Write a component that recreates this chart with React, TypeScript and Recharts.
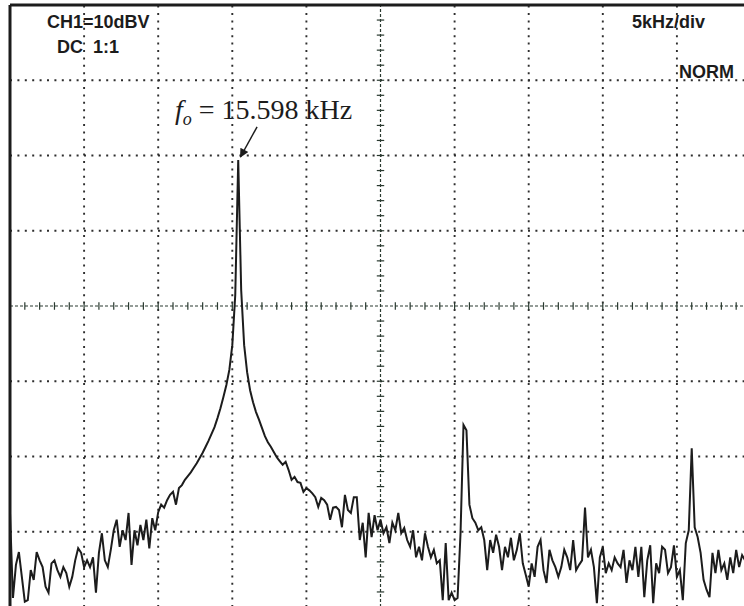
import React from "react";
import { LineChart, Line, XAxis, YAxis, ReferenceLine } from "recharts";

// spectrum trace, dB (top of screen = 0, 10 dB/div), sampled every 0.2 kHz from 0 kHz
const levels = [
  -67.5, -78.8, -74.4, -72.7, -76.0, -79.3, -79.1, -75.1, -76.4, -72.7,
  -73.8, -74.7, -77.3, -78.1, -74.2, -73.8, -75.1, -76.0, -74.7, -75.5,
  -77.3, -76.0, -73.8, -72.2, -72.8, -74.7, -73.8, -74.7, -73.4, -78.1,
  -72.8, -70.2, -73.8, -74.7, -72.4, -69.8, -68.4, -72.0, -69.8, -71.1,
  -67.5, -74.4, -69.8, -71.8, -69.1, -71.1, -68.4, -72.2, -68.2, -69.8,
  -67.4, -66.4, -66.8, -65.8, -65.1, -64.7, -66.4, -64.2, -63.8, -63.1,
  -62.6, -62.1, -61.5, -60.9, -60.2, -59.5, -58.7, -57.9, -57.0, -56.1,
  -54.9, -53.6, -52.1, -50.5, -48.5, -45.2, -38.5, -20.6, -37.9, -45.2,
  -48.8, -51.2, -52.8, -54.1, -55.1, -56.2, -57.3, -58.1, -58.7, -59.4,
  -60.1, -60.6, -61.1, -60.7, -61.8, -63.1, -62.7, -63.4, -63.5, -64.7,
  -64.2, -64.5, -64.9, -65.4, -66.7, -65.5, -65.8, -66.4, -68.4, -66.8,
  -66.7, -67.1, -69.4, -65.1, -67.1, -67.5, -65.4, -65.4, -71.1, -68.8,
  -73.4, -67.5, -70.7, -67.8, -69.8, -68.4, -70.2, -69.4, -71.5, -68.8,
  -69.8, -67.5, -70.2, -69.5, -71.1, -72.0, -69.8, -73.4, -72.0, -73.8,
  -70.2, -72.0, -73.4, -72.4, -74.2, -73.8, -79.1, -71.5, -79.1, -78.1,
  -79.1, -78.8, -70.2, -55.8, -56.5, -66.4, -68.2, -68.8, -69.8, -69.4,
  -71.1, -75.1, -71.1, -72.8, -70.4, -72.0, -75.1, -72.0, -73.4, -70.8,
  -73.8, -72.4, -70.2, -74.2, -75.7, -77.3, -74.2, -76.0, -72.0, -71.1,
  -75.1, -76.8, -72.4, -73.8, -74.7, -76.0, -74.7, -72.4, -73.4, -75.1,
  -71.1, -75.1, -74.4, -73.8, -66.8, -73.4, -72.4, -74.7, -79.5, -73.4,
  -72.0, -75.5, -74.2, -75.1, -73.4, -74.2, -74.7, -72.4, -76.8, -73.8,
  -75.1, -72.0, -76.0, -72.0, -78.7, -73.8, -71.8, -79.5, -74.2, -75.5,
  -72.0, -72.4, -75.5, -74.7, -71.8, -76.0, -75.1, -79.1, -71.5, -69.8,
  -58.9, -69.4, -70.7, -72.8, -76.4, -77.7, -78.7, -72.8, -75.5, -72.4,
  -75.1, -74.2, -76.4, -73.4, -75.5, -72.4, -74.7, -73.1, -73.8, -74.4,
  -73.8,
];
const FREQ_STEP = 0.2; // kHz per sample

const freqGrid = [5, 10, 15, 20, 30, 35, 40, 45];
const levelGrid = [-10, -20, -30, -50, -60, -70];
const freqTicks = [
  1, 2, 3, 4, 5, 6, 7, 8, 9, 10, 11, 12, 13, 14, 15, 16, 17, 18, 19, 20,
  21, 22, 23, 24, 26, 27, 28, 29, 30, 31, 32, 33, 34, 35, 36, 37, 38, 39,
  40, 41, 42, 43, 44, 45, 46, 47, 48, 49,
];
const levelTicks = [
  -2, -4, -6, -8, -10, -12, -14, -16, -18, -20, -22, -24, -26, -28, -30,
  -32, -34, -36, -38, -42, -44, -46, -48, -50, -52, -54, -56, -58, -60,
  -62, -64, -66, -68, -70, -72, -74, -76, -78,
];

const data = levels.map((level, i) => ({ freq: +(i * FREQ_STEP).toFixed(1), level }));

const ink = "#1c1c1c";
const dotted = { stroke: "#2e2e2e", strokeWidth: 1.9, strokeDasharray: "2 5.4" };
const axisLine = { stroke: "#2a3a30", strokeWidth: 1.2, strokeDasharray: "3 2" };
const scopeText: React.CSSProperties = {
  position: "absolute",
  fontFamily: "'Liberation Sans', Arial, sans-serif",
  fontWeight: 700,
  fontSize: 18,
  lineHeight: "18px",
  color: ink,
  whiteSpace: "nowrap",
};

export default function App() {
  return (
    <div
      style={{
        position: "absolute",
        left: 0,
        top: 0,
        width: 744,
        height: 606,
        overflow: "hidden",
        background: "#fff",
      }}
    >
      <svg width={0} height={0} style={{ position: "absolute" }}>
        <defs>
          <marker
            id="arrowHead"
            viewBox="0 0 10 10"
            refX="9"
            refY="5"
            markerWidth="7"
            markerHeight="6"
            orient="auto"
          >
            <path d="M0,0 L10,5 L0,10 z" fill={ink} />
          </marker>
        </defs>
      </svg>
      <LineChart
        width={760}
        height={612}
        data={data}
        margin={{ top: 5, right: 9, bottom: 5, left: 10 }}
      >
        <XAxis dataKey="freq" type="number" domain={[0, 50]} hide />
        <YAxis type="number" domain={[-80, 0]} hide allowDataOverflow />
        {freqGrid.map((f) => (
          <ReferenceLine key={"v" + f} x={f} {...dotted} />
        ))}
        {levelGrid.map((l) => (
          <ReferenceLine key={"h" + l} y={l} {...dotted} />
        ))}
        <ReferenceLine x={25} {...axisLine} />
        <ReferenceLine y={-40} {...axisLine} />
        {freqTicks.map((f) => (
          <ReferenceLine
            key={"ft" + f}
            segment={[
              { x: f, y: -40.5 },
              { x: f, y: -39.5 },
            ]}
            stroke="#2a3a30"
            strokeWidth={1.2}
          />
        ))}
        {levelTicks.map((l) => (
          <ReferenceLine
            key={"lt" + l}
            segment={[
              { x: 24.75, y: l },
              { x: 25.25, y: l },
            ]}
            stroke="#2a3a30"
            strokeWidth={1.2}
          />
        ))}
        <ReferenceLine x={0} stroke={ink} strokeWidth={3} />
        <ReferenceLine y={0} stroke={ink} strokeWidth={3} />
        <ReferenceLine
          segment={[
            { x: 16.67, y: -16.2 },
            { x: 15.55, y: -20.2 },
          ]}
          stroke={ink}
          strokeWidth={1.5}
          markerEnd="url(#arrowHead)"
        />
        <Line
          type="linear"
          dataKey="level"
          stroke={ink}
          strokeWidth={2}
          dot={false}
          isAnimationActive={false}
        />
      </LineChart>

      <div style={{ ...scopeText, left: 47, top: 13 }}>CH1=10dBV</div>
      <div style={{ ...scopeText, left: 57, top: 38 }}>DC&nbsp; 1:1</div>
      <div style={{ ...scopeText, left: 632, top: 13 }}>5kHz/div</div>
      <div style={{ ...scopeText, left: 679, top: 63 }}>NORM</div>
      <div
        style={{
          position: "absolute",
          left: 175,
          top: 96,
          fontFamily: "'Liberation Serif', 'Times New Roman', serif",
          fontSize: 28,
          lineHeight: "28px",
          color: ink,
          whiteSpace: "nowrap",
        }}
      >
        <span style={{ fontStyle: "italic" }}>f</span>
        <span style={{ fontStyle: "italic", fontSize: 18, position: "relative", top: 6 }}>o</span>
        {" = 15.598 kHz"}
      </div>
    </div>
  );
}
